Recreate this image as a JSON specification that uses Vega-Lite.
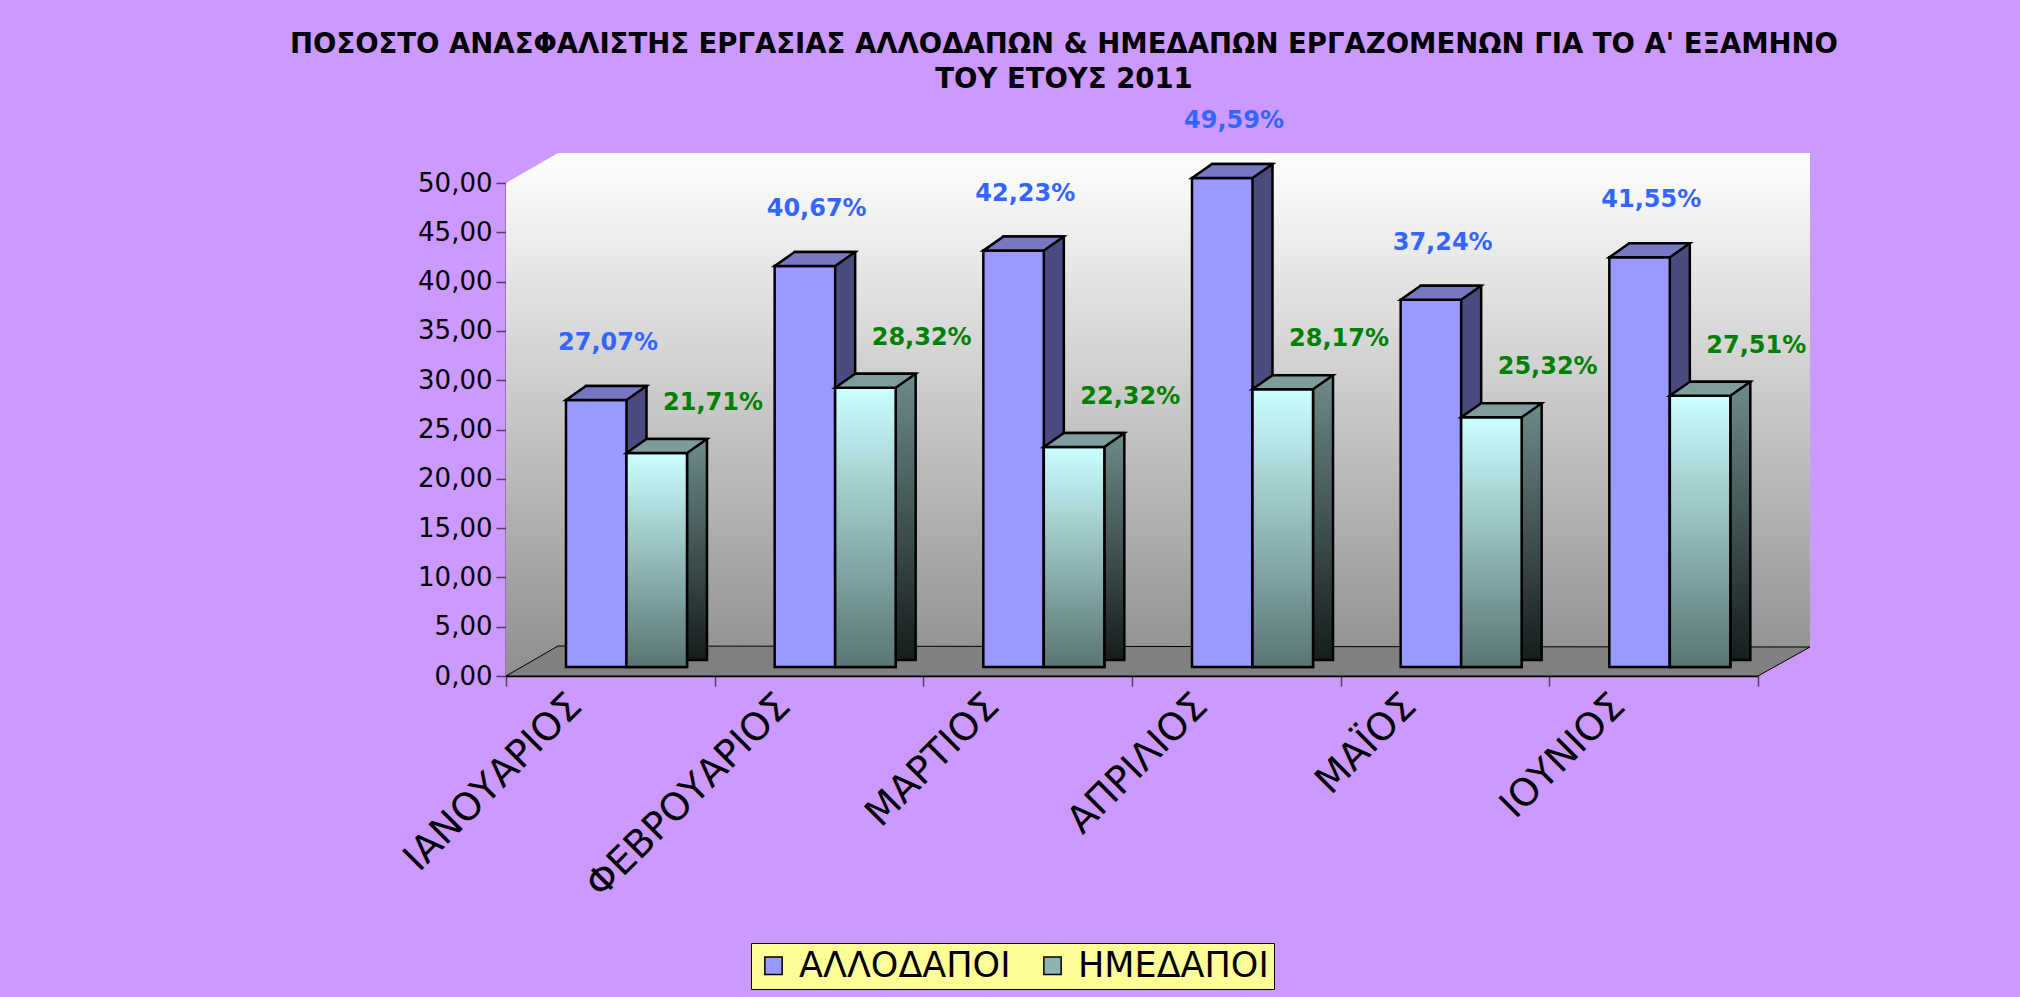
{
  "$schema": "https://vega.github.io/schema/vega-lite/v6.json",
  "width": 1252,
  "height": 493,
  "autosize": {"type": "none"},
  "padding": {"left": 506, "top": 183, "right": 262, "bottom": 321},
  "background": "#CC99FF",
  "config": {
    "view": {"stroke": null},
    "font": "DejaVu Sans",
    "axis": {"domainColor": "#000000", "domainWidth": 1.5, "grid": false, "labelColor": "#000000", "labelFont": "DejaVu Sans", "tickColor": "#4B3F5C", "tickWidth": 1.5, "labelLimit": 500, "zindex": 1}
  },
  "title": {
    "text": ["ΠΟΣΟΣΤΟ ΑΝΑΣΦΑΛΙΣΤΗΣ ΕΡΓΑΣΙΑΣ ΑΛΛΟΔΑΠΩΝ & ΗΜΕΔΑΠΩΝ ΕΡΓΑΖΟΜΕΝΩΝ ΓΙΑ ΤΟ Α' ΕΞΑΜΗΝΟ", "ΤΟΥ ΕΤΟΥΣ 2011"],
    "font": "DejaVu Sans",
    "fontSize": 27.5,
    "fontWeight": "bold",
    "color": "#000000",
    "anchor": "middle",
    "frame": "group",
    "dx": -68,
    "baseline": "bottom",
    "offset": -12,
    "lineHeight": 35
  },
  "datasets": {
    "rates": [
      {"month": "ΙΑΝΟΥΑΡΙΟΣ", "group": "ΑΛΛΟΔΑΠΟΙ", "value": 27.07},
      {"month": "ΙΑΝΟΥΑΡΙΟΣ", "group": "ΗΜΕΔΑΠΟΙ", "value": 21.71},
      {"month": "ΦΕΒΡΟΥΑΡΙΟΣ", "group": "ΑΛΛΟΔΑΠΟΙ", "value": 40.67},
      {"month": "ΦΕΒΡΟΥΑΡΙΟΣ", "group": "ΗΜΕΔΑΠΟΙ", "value": 28.32},
      {"month": "ΜΑΡΤΙΟΣ", "group": "ΑΛΛΟΔΑΠΟΙ", "value": 42.23},
      {"month": "ΜΑΡΤΙΟΣ", "group": "ΗΜΕΔΑΠΟΙ", "value": 22.32},
      {"month": "ΑΠΡΙΛΙΟΣ", "group": "ΑΛΛΟΔΑΠΟΙ", "value": 49.59},
      {"month": "ΑΠΡΙΛΙΟΣ", "group": "ΗΜΕΔΑΠΟΙ", "value": 28.17},
      {"month": "ΜΑΪΟΣ", "group": "ΑΛΛΟΔΑΠΟΙ", "value": 37.24},
      {"month": "ΜΑΪΟΣ", "group": "ΗΜΕΔΑΠΟΙ", "value": 25.32},
      {"month": "ΙΟΥΝΙΟΣ", "group": "ΑΛΛΟΔΑΠΟΙ", "value": 41.55},
      {"month": "ΙΟΥΝΙΟΣ", "group": "ΗΜΕΔΑΠΟΙ", "value": 27.51}
    ]
  },
  "data": {"name": "rates"},
  "resolve": {"scale": {"xOffset": "independent"}},
  "layer": [
    {
      "data": {"values": [{"part": "wall"}]},
      "mark": {"type": "point", "shape": "M0,-493L52,-523L1304,-523L1304,-29L1252,0L0,0Z", "size": 4, "filled": true, "opacity": 1, "strokeWidth": 0,
        "fill": {"gradient": "linear", "x1": 0, "y1": 0, "x2": 0, "y2": 1, "stops": [{"offset": 0, "color": "#FFFFFF"}, {"offset": 1, "color": "#8E8E8E"}]}},
      "encoding": {
        "x": {"datum": "ΙΑΝΟΥΑΡΙΟΣ", "type": "nominal", "bandPosition": 0, "title": null, "scale": {"domain": ["ΙΑΝΟΥΑΡΙΟΣ", "ΦΕΒΡΟΥΑΡΙΟΣ", "ΜΑΡΤΙΟΣ", "ΑΠΡΙΛΙΟΣ", "ΜΑΪΟΣ", "ΙΟΥΝΙΟΣ"], "paddingInner": 0, "paddingOuter": 0},
          "axis": {"labelAngle": -45, "labelAlign": "right", "labelBaseline": "middle", "labelFontSize": 38, "labelOffset": -35, "tickBand": "extent", "tickSize": 10, "labelPadding": 14, "title": null}},
        "y": {"datum": 0, "type": "quantitative", "title": null, "scale": {"domain": [0, 50], "nice": false},
          "axis": {"values": [0, 5, 10, 15, 20, 25, 30, 35, 40, 45, 50], "labelExpr": "replace(format(datum.value, '.2f'), '.', ',')", "labelFontSize": 26, "tickSize": 10, "labelPadding": 4, "title": null}}
      }
    },
    {
      "data": {"values": [{"part": "floor"}]},
      "mark": {"type": "point", "shape": "M0,0L1252,0L1304,-29L52,-30Z", "size": 4, "filled": true, "opacity": 1, "fill": "#808080", "stroke": "#000000", "strokeWidth": 1},
      "encoding": {
        "x": {"datum": "ΙΑΝΟΥΑΡΙΟΣ", "type": "nominal", "bandPosition": 0, "title": null},
        "y": {"datum": 0, "type": "quantitative", "title": null}
      }
    },
    {
      "mark": {"type": "bar", "yOffset": -23, "y2Offset": -16, "stroke": "#000000", "strokeWidth": 2.5},
      "encoding": {
        "x": {"field": "month", "type": "nominal", "title": null},
        "xOffset": {"field": "group", "type": "nominal", "scale": {"domain": ["ΑΛΛΟΔΑΠΟΙ", "ΗΜΕΔΑΠΟΙ"], "range": [80, 201], "paddingInner": 0, "paddingOuter": 0}},
        "y": {"field": "value", "type": "quantitative", "stack": null, "title": null},
        "y2": {"datum": 0},
        "fill": {"condition": {"test": "datum.group === 'ΑΛΛΟΔΑΠΟΙ'", "value": "#4B4B80"},
          "value": {"gradient": "linear", "x1": 0, "y1": 0, "x2": 0, "y2": 1, "stops": [{"offset": 0, "color": "#6E8A8A"}, {"offset": 1, "color": "#161C1C"}]}}
      }
    },
    {
      "mark": {"type": "bar", "yOffset": -9, "y2Offset": -9, "stroke": "#000000", "strokeWidth": 2.5, "opacity": 1},
      "encoding": {
        "x": {"field": "month", "type": "nominal", "title": null},
        "xOffset": {"field": "group", "type": "nominal", "scale": {"domain": ["ΑΛΛΟΔΑΠΟΙ", "ΗΜΕΔΑΠΟΙ"], "range": [60, 181], "paddingInner": 0, "paddingOuter": 0}},
        "y": {"field": "value", "type": "quantitative", "stack": null, "title": null},
        "y2": {"datum": 0},
        "color": {"field": "group", "type": "nominal",
          "scale": {"domain": ["ΑΛΛΟΔΑΠΟΙ", "ΗΜΕΔΑΠΟΙ"], "range": ["#9999FF", "#8DB3B3"]},
          "legend": {"orient": "none", "legendX": 245, "legendY": 760, "direction": "horizontal", "title": null, "fillColor": "#FFFF99", "strokeColor": "#000000", "padding": 5, "labelFontSize": 35, "labelFont": "DejaVu Sans", "labelColor": "#000000", "labelLimit": 500, "symbolType": "square", "symbolSize": 300, "symbolStrokeColor": "#000000", "symbolStrokeWidth": 1.5, "symbolOpacity": 1, "columnPadding": 24, "labelOffset": 8}}
      }
    },
    {
      "transform": [{"filter": "datum.group === 'ΗΜΕΔΑΠΟΙ'"}],
      "mark": {"type": "bar", "yOffset": -9, "y2Offset": -9, "stroke": "#000000", "strokeWidth": 2.5,
        "fill": {"gradient": "linear", "x1": 0, "y1": 0, "x2": 0, "y2": 1, "stops": [{"offset": 0, "color": "#CCFFFF"}, {"offset": 1, "color": "#5A7474"}]}},
      "encoding": {
        "x": {"field": "month", "type": "nominal", "title": null},
        "xOffset": {"field": "group", "type": "nominal", "scale": {"domain": ["ΑΛΛΟΔΑΠΟΙ", "ΗΜΕΔΑΠΟΙ"], "range": [60, 181], "paddingInner": 0, "paddingOuter": 0}},
        "y": {"field": "value", "type": "quantitative", "stack": null, "title": null},
        "y2": {"datum": 0}
      }
    },
    {
      "mark": {"type": "point", "shape": "M0,0L60.5,0L80.5,-14L20,-14Z", "size": 4, "filled": true, "opacity": 1, "yOffset": -9, "stroke": "#000000", "strokeWidth": 2.5},
      "encoding": {
        "x": {"field": "month", "type": "nominal", "title": null},
        "xOffset": {"field": "group", "type": "nominal", "scale": {"domain": ["ΑΛΛΟΔΑΠΟΙ", "ΗΜΕΔΑΠΟΙ"], "range": [60, 120.5], "paddingInner": 0, "paddingOuter": 0}},
        "y": {"field": "value", "type": "quantitative", "title": null},
        "fill": {"condition": {"test": "datum.group === 'ΑΛΛΟΔΑΠΟΙ'", "value": "#7777C2"}, "value": "#7E9C9C"}
      }
    },
    {
      "transform": [{"filter": "datum.group === 'ΑΛΛΟΔΑΠΟΙ'"}],
      "mark": {"type": "text", "font": "DejaVu Sans", "fontWeight": "bold", "fontSize": 24, "color": "#3366FF", "align": "center", "baseline": "middle", "dy": -66,
        "text": {"expr": "replace(format(datum.value, '.2f'), '.', ',') + '%'"}},
      "encoding": {
        "x": {"field": "month", "type": "nominal", "title": null},
        "xOffset": {"field": "group", "type": "nominal", "scale": {"domain": ["ΑΛΛΟΔΑΠΟΙ", "ΗΜΕΔΑΠΟΙ"], "range": [102, 207], "paddingInner": 0, "paddingOuter": 0}},
        "y": {"field": "value", "type": "quantitative", "title": null}
      }
    },
    {
      "transform": [{"filter": "datum.group === 'ΗΜΕΔΑΠΟΙ'"}],
      "mark": {"type": "text", "font": "DejaVu Sans", "fontWeight": "bold", "fontSize": 24, "color": "#008000", "align": "center", "baseline": "middle", "dy": -59,
        "text": {"expr": "replace(format(datum.value, '.2f'), '.', ',') + '%'"}},
      "encoding": {
        "x": {"field": "month", "type": "nominal", "title": null},
        "xOffset": {"field": "group", "type": "nominal", "scale": {"domain": ["ΑΛΛΟΔΑΠΟΙ", "ΗΜΕΔΑΠΟΙ"], "range": [102, 207], "paddingInner": 0, "paddingOuter": 0}},
        "y": {"field": "value", "type": "quantitative", "title": null}
      }
    }
  ]
}
